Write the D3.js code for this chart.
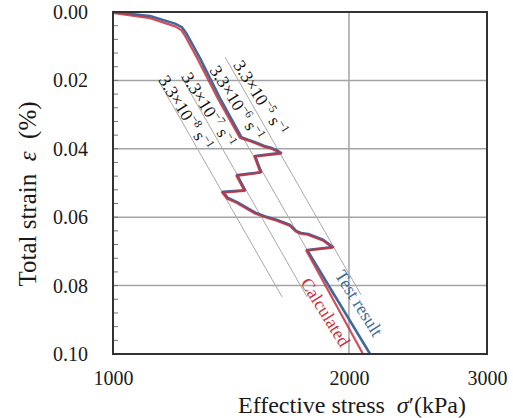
<!DOCTYPE html>
<html>
<head>
<meta charset="utf-8">
<script src="https://cdn.jsdelivr.net/npm/d3@7/dist/d3.min.js"></script>
<style>
  html, body { margin: 0; padding: 0; background: #fff; }
  svg { display: block; }
  svg text { font-family: "Liberation Serif", "Times New Roman", serif !important; }
</style>
</head>
<body>
<svg id="chart" width="513" height="418"></svg>
<script>
// ---- data ----
const xTicks = [1000, 2000, 3000];
const yTicks = [0.00, 0.02, 0.04, 0.06, 0.08, 0.10];
const yMinorStep = 0.004;

const testSigma  = [1000, 1115, 1200, 1225, 1240, 1291, 1369, 1457, 1490, 1518, 1560, 1595, 1620, 1638, 1518, 1545, 1440, 1474, 1381, 1402, 1440, 1475, 1520, 1570, 1620, 1683, 1713, 1737, 1774, 1854, 1908, 1769, 2128];
const testStrain = [0.0000, 0.0012, 0.0034, 0.0045, 0.0062, 0.0135, 0.0252, 0.0366, 0.0374, 0.0381, 0.0392, 0.0398, 0.0405, 0.0412, 0.0421, 0.0468, 0.0477, 0.0521, 0.0526, 0.0544, 0.0556, 0.0570, 0.0587, 0.0599, 0.0608, 0.0623, 0.0640, 0.0646, 0.0649, 0.0666, 0.0687, 0.0696, 0.1000];

const calcSigma  = [1000, 1115, 1200, 1222, 1236, 1284, 1362, 1452, 1488, 1516, 1558, 1592, 1618, 1636, 1515, 1542, 1437, 1471, 1378, 1399, 1437, 1472, 1517, 1567, 1617, 1680, 1710, 1734, 1771, 1851, 1905, 1765, 2084];
const calcStrain = [0.0003, 0.0018, 0.0042, 0.0053, 0.0070, 0.0140, 0.0255, 0.0368, 0.0376, 0.0383, 0.0394, 0.0400, 0.0407, 0.0414, 0.0423, 0.0470, 0.0479, 0.0523, 0.0528, 0.0546, 0.0558, 0.0572, 0.0589, 0.0601, 0.0610, 0.0625, 0.0642, 0.0648, 0.0651, 0.0668, 0.0689, 0.0698, 0.1000];

const rateExp        = ["8", "7", "6", "5"];
const rateSigmaTop   = [1144, 1221, 1299, 1390];
const rateStrainTop  = [0.0202, 0.0187, 0.0158, 0.0132];
const rateSigmaBot   = [1643, 1768, 1914, 2072];
const rateStrainBot  = [0.0833, 0.0833, 0.0833, 0.0827];
const rateLabelSigma  = [1141, 1221, 1326, 1422];
const rateLabelStrain = [0.0199, 0.0190, 0.0170, 0.0155];

const seriesNames = ["Test result", "Calculated"];
const seriesLabelSigma  = [1915, 1732];
const seriesLabelStrain = [0.0769, 0.0792];

// ---- layout ----
const svg = d3.select("#chart");
const L = 113, R = 487, T = 12, B = 354;
const x = d3.scaleLog().domain([1000, 3000]).range([L, R]);
const y = d3.scaleLinear().domain([0, 0.1]).range([T, B]);

const blue = "#42699a", red = "#c8303f";
const gridColor = "#a3a3a3";
const serif = "'Liberation Serif', 'Times New Roman', serif";

// grid
const g = svg.append("g");
g.selectAll("line.hg").data(yTicks.filter(v => v > 0 && v < 0.1)).enter().append("line")
  .attr("x1", L).attr("x2", R).attr("y1", d => y(d)).attr("y2", d => y(d))
  .attr("stroke", gridColor).attr("stroke-width", 1.5);
g.selectAll("line.vg").data(xTicks.filter(v => v > 1000 && v < 3000)).enter().append("line")
  .attr("x1", d => x(d)).attr("x2", d => x(d)).attr("y1", T).attr("y2", B)
  .attr("stroke", gridColor).attr("stroke-width", 1.5);

// minor ticks on the left (inside)
const minor = d3.range(0, 0.1 + 1e-9, yMinorStep);
g.selectAll("line.mt").data(minor).enter().append("line")
  .attr("x1", L).attr("x2", L + 5).attr("y1", d => y(d)).attr("y2", d => y(d))
  .attr("stroke", "#777").attr("stroke-width", 1);

// strain-rate lines
const rates = rateExp.map((e, i) => ({
  e, s0: rateSigmaTop[i], e0: rateStrainTop[i], s1: rateSigmaBot[i], e1: rateStrainBot[i],
  ls: rateLabelSigma[i], le: rateLabelStrain[i]
}));
g.selectAll("line.rate").data(rates).enter().append("line")
  .attr("x1", d => x(d.s0)).attr("y1", d => y(d.e0))
  .attr("x2", d => x(d.s1)).attr("y2", d => y(d.e1))
  .attr("stroke", "#a8a8a8").attr("stroke-width", 1);

const rl = g.selectAll("text.rate").data(rates).enter().append("text")
  .attr("transform", d => `translate(${x(d.ls)},${y(d.le)}) rotate(58)`)
  .style("font-family", serif).attr("font-size", 17.5).attr("fill", "#111");
rl.append("tspan").text("3.3×10");
rl.append("tspan").attr("font-size", 11.5).attr("dy", -7).text(d => "−" + d.e);
rl.append("tspan").attr("dy", 7).text(" s");
rl.append("tspan").attr("font-size", 11.5).attr("dy", -7).text("−1");

// curves
const line = d3.line().x(d => x(d[0])).y(d => y(d[1]));
const testPts = testSigma.map((s, i) => [s, testStrain[i]]);
const calcPts = calcSigma.map((s, i) => [s, calcStrain[i]]);
g.append("path").attr("d", line(testPts)).attr("fill", "none")
  .attr("stroke", blue).attr("stroke-width", 2.6).attr("stroke-linejoin", "round");
g.append("path").attr("d", line(calcPts)).attr("fill", "none")
  .attr("stroke", red).attr("stroke-width", 2.2).attr("stroke-linejoin", "round").attr("opacity", 0.85);

// series labels
const sColors = [blue, red];
seriesNames.forEach((n, i) => {
  g.append("text")
    .attr("transform", `translate(${x(seriesLabelSigma[i])},${y(seriesLabelStrain[i])}) rotate(58)`)
    .style("font-family", serif).attr("font-size", 18).attr("fill", sColors[i]).text(n);
});

// frame
svg.append("rect").attr("x", L).attr("y", T).attr("width", R - L).attr("height", B - T)
  .attr("fill", "none").attr("stroke", "#333").attr("stroke-width", 2);

// axes labels
const ya = svg.append("g").attr("transform", `translate(${L},0)`)
  .call(d3.axisLeft(y).tickValues(yTicks).tickFormat(d3.format(".2f")).tickSize(0).tickPadding(25));
ya.select(".domain").remove();
ya.attr("font-family", null);
ya.selectAll("text").attr("font-size", 20).attr("fill", "#1a1a1a").style("font-family", serif);

const xa = svg.append("g").attr("transform", `translate(0,${B})`)
  .call(d3.axisBottom(x).tickValues(xTicks).tickFormat(d3.format("d")).tickSize(0).tickPadding(17));
xa.select(".domain").remove();
xa.attr("font-family", null);
xa.selectAll("text").attr("font-size", 20).attr("fill", "#1a1a1a").style("font-family", serif);

// titles
const xt = svg.append("text").attr("x", 238).attr("y", 413).attr("font-size", 24)
  .style("font-family", serif).attr("fill", "#1a1a1a");
xt.append("tspan").text("Effective stress\u00a0\u00a0");
xt.append("tspan").attr("font-style", "italic").text("σ");
xt.append("tspan").text("′(kPa)");

const yt = svg.append("text").attr("transform", "translate(36,194) rotate(-90)")
  .attr("text-anchor", "middle").attr("font-size", 25).style("font-family", serif).attr("fill", "#1a1a1a");
yt.append("tspan").text("Total strain\u00a0\u00a0");
yt.append("tspan").attr("font-style", "italic").text("ε");
yt.append("tspan").text("\u00a0\u00a0(%)");
</script>
</body>
</html>
